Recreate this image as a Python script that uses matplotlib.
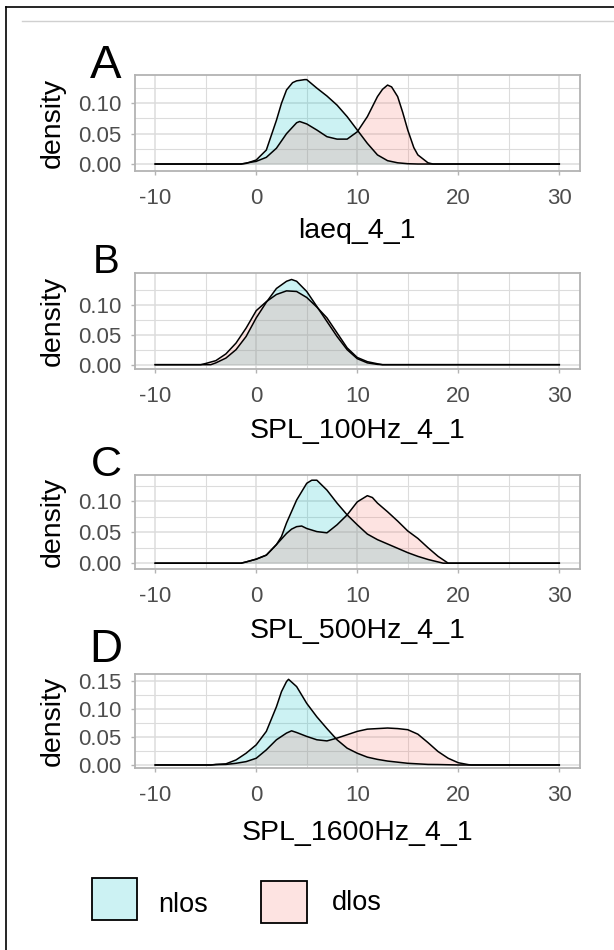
import matplotlib
matplotlib.use("Agg")
import matplotlib.pyplot as plt
from matplotlib.patches import Rectangle
from matplotlib.lines import Line2D

plt.rcParams['font.family'] = ['Liberation Sans', 'DejaVu Sans']

# ---------------- data ----------------
groups = ["nlos", "dlos"]
fill_colors = {"nlos": "#00BFC4", "dlos": "#F8766D"}
panel_letters = ["A", "B", "C", "D"]
x_labels = ["laeq_4_1", "SPL_100Hz_4_1", "SPL_500Hz_4_1", "SPL_1600Hz_4_1"]
x_ticks = [-10, 0, 10, 20, 30]

# Panel A
a_nlos_x = [-10, -1.5, -1, 0, 1, 2, 2.5, 3, 3.6, 4, 4.8, 5, 6, 7, 8, 9, 10, 11, 12, 13, 14, 15, 16, 30]
a_nlos_y = [0, 0, 0.001, 0.0066, 0.023, 0.072, 0.100, 0.122, 0.134, 0.137, 0.139, 0.139, 0.125, 0.112,
            0.097, 0.078, 0.056, 0.034, 0.015, 0.0055, 0.002, 0.0005, 0, 0]
a_dlos_x = [-10, -1.5, -1, 0, 1, 2, 3, 4, 4.3, 5, 6, 7, 8, 9, 10, 11, 12, 12.5, 13, 13.4, 14, 14.5,
            15, 15.6, 16, 17, 17.5, 30]
a_dlos_y = [0, 0, 0.0016, 0.0044, 0.011, 0.026, 0.050, 0.068, 0.070, 0.066, 0.056, 0.045, 0.041, 0.041,
            0.053, 0.078, 0.111, 0.123, 0.130, 0.127, 0.111, 0.085, 0.056, 0.027, 0.015, 0.002, 0, 0]

# Panel B
b_nlos_x = [-10, -4.5, -4, -3, -2, -1, 0, 1, 2, 3, 3.5, 4, 5, 6, 7, 8, 9, 10, 11, 12, 12.5, 30]
b_nlos_y = [0, 0, 0.003, 0.011, 0.025, 0.047, 0.078, 0.104, 0.127, 0.139, 0.142, 0.139, 0.122, 0.097,
            0.072, 0.047, 0.025, 0.010, 0.003, 0.0005, 0, 0]
b_dlos_x = [-10, -5.5, -5, -4, -3, -2, -1, 0, 1, 2, 3, 4, 5, 6, 7, 8, 9, 10, 11, 12, 12.5, 30]
b_dlos_y = [0, 0, 0.002, 0.0067, 0.018, 0.036, 0.061, 0.090, 0.105, 0.117, 0.123, 0.122, 0.112, 0.096,
            0.078, 0.053, 0.028, 0.012, 0.005, 0.0015, 0, 0]

# Panel C
c_nlos_x = [-10, -1.5, -1, 0, 1, 2, 2.5, 3, 4, 5, 5.5, 6, 7, 8, 9, 10, 11, 12, 13, 14, 15, 16, 17, 18,
            18.5, 30]
c_nlos_y = [0, 0, 0.002, 0.0065, 0.013, 0.030, 0.043, 0.065, 0.102, 0.129, 0.134, 0.134, 0.118, 0.097,
            0.078, 0.062, 0.047, 0.038, 0.031, 0.024, 0.017, 0.011, 0.006, 0.002, 0, 0]
c_dlos_x = [-10, -1.5, -1, 0, 1, 2, 3, 3.5, 4, 4.5, 5, 6, 7, 8, 9, 10, 11, 11.5, 12, 13, 14, 15, 16,
            17, 18, 19, 30]
c_dlos_y = [0, 0, 0.002, 0.0065, 0.013, 0.030, 0.048, 0.055, 0.059, 0.060, 0.056, 0.051, 0.049, 0.062,
            0.078, 0.099, 0.109, 0.106, 0.097, 0.083, 0.068, 0.052, 0.040, 0.025, 0.011, 0, 0]

# Panel D
d_nlos_x = [-10, -4.5, -4, -3, -2, -1, 0, 1, 2, 2.5, 3, 3.2, 4, 5, 6, 7, 8, 9, 10, 11, 12, 13, 14, 15,
            16, 17, 18, 19, 20, 30]
d_nlos_y = [0, 0, 0.001, 0.002, 0.009, 0.021, 0.036, 0.060, 0.104, 0.131, 0.149, 0.153, 0.140, 0.110,
            0.086, 0.065, 0.045, 0.030, 0.021, 0.014, 0.010, 0.007, 0.005, 0.003, 0.002, 0.001, 0.0008,
            0.0004, 0, 0]
d_dlos_x = [-10, -4.5, -4, -3, -2, -1, 0, 1, 2, 3, 3.5, 4, 5, 6, 7, 8, 9, 10, 11, 12, 13, 14, 15, 16,
            17, 18, 19, 20, 21, 21.3, 30]
d_dlos_y = [0, 0, 0.0006, 0.001, 0.003, 0.006, 0.012, 0.027, 0.045, 0.057, 0.061, 0.058, 0.051, 0.045,
            0.043, 0.048, 0.054, 0.060, 0.064, 0.065, 0.066, 0.065, 0.063, 0.055, 0.040, 0.024, 0.012,
            0.004, 0.0006, 0, 0]

panels = [
    {"nlos": (a_nlos_x, a_nlos_y), "dlos": (a_dlos_x, a_dlos_y), "yticks": [0, 0.05, 0.10]},
    {"nlos": (b_nlos_x, b_nlos_y), "dlos": (b_dlos_x, b_dlos_y), "yticks": [0, 0.05, 0.10]},
    {"nlos": (c_nlos_x, c_nlos_y), "dlos": (c_dlos_x, c_dlos_y), "yticks": [0, 0.05, 0.10]},
    {"nlos": (d_nlos_x, d_nlos_y), "dlos": (d_dlos_x, d_dlos_y), "yticks": [0, 0.05, 0.10, 0.15]},
]

# ---------------- layout (pixels) ----------------
W, H = 614, 950
fig = plt.figure(figsize=(W / 100, H / 100), dpi=100)

def fx(px):
    return px / W

def fy(py):
    return 1 - py / H

ax_left, ax_right = 135, 579.5
ax_rows = [(75, 171), (273, 369), (475, 569), (674, 768)]
ylims = [(-0.0115, 0.1466), (-0.0072, 0.1528), (-0.0094, 0.1424), (-0.0054, 0.1625)]
xlabel_baseline = [238, 438, 638, 840]
letter_info = [(106, 78, 34), (106, 273, 29), (106, 475.5, 31), (106, 661.5, 33)]

tick_col = "#4D4D4D"
grid_col = "#DCDCDC"
border_col = "#B3B3B3"

for i, (top, bot) in enumerate(ax_rows):
    ax = fig.add_axes([fx(ax_left), fy(bot), fx(ax_right - ax_left), (bot - top) / H])
    p = panels[i]
    for g in groups:
        xs, ys = p[g]
        ax.fill_between(xs, ys, 0, color=fill_colors[g], alpha=0.2, lw=0, zorder=2)
    for g in groups:
        xs, ys = p[g]
        ax.plot(xs, ys, color="black", lw=1.1, zorder=3, solid_joinstyle="round")
    ax.set_xlim(-12, 32)
    ax.set_ylim(*ylims[i])
    ax.set_xticks(x_ticks)
    ax.set_xticks([-5, 5, 15, 25], minor=True)
    yt = p["yticks"]
    ax.set_yticks(yt)
    ax.set_yticks([v + 0.025 for v in yt if v + 0.025 < ylims[i][1]], minor=True)
    ax.set_xticklabels([str(v) for v in x_ticks])
    ax.set_yticklabels(["%.2f" % v for v in yt])
    ax.grid(True, which="major", color=grid_col, lw=1.1, zorder=0)
    ax.grid(True, which="minor", color=grid_col, lw=0.8, zorder=0)
    ax.set_axisbelow(True)
    for s in ax.spines.values():
        s.set_color(border_col)
        s.set_linewidth(1.3)
    ax.tick_params(which="major", length=3, width=1.0, color=border_col,
                   labelcolor=tick_col, labelsize=16)
    ax.tick_params(axis="y", which="major", pad=6.5)
    ax.tick_params(axis="x", which="major", pad=9)
    ax.tick_params(which="minor", length=0)
    # y label
    fig.text(fx(53), fy((top + bot) / 2), "density", rotation=90, ha="center", va="center",
             fontsize=20.5, color="black")
    # x label
    fig.text(fx((ax_left + ax_right) / 2), fy(xlabel_baseline[i]), x_labels[i], ha="center",
             va="baseline", fontsize=20.5, color="black")
    # panel letter
    lx, ly, ls = letter_info[i]
    fig.text(fx(lx), fy(ly), panel_letters[i], ha="center", va="baseline", fontsize=ls,
             color="black")

# legend
legend_boxes = {"nlos": (91.5, 877.5, 136.5, 920), "dlos": (261, 881, 306.5, 923)}
legend_text = {"nlos": (158, 912.5), "dlos": (331.5, 910)}
for g in groups:
    x0, y0, x1, y1 = legend_boxes[g]
    fig.patches.append(Rectangle((fx(x0), fy(y1)), fx(x1 - x0), (y1 - y0) / H,
                                 transform=fig.transFigure, facecolor=fill_colors[g], alpha=0.2,
                                 edgecolor="none"))
    fig.patches.append(Rectangle((fx(x0), fy(y1)), fx(x1 - x0), (y1 - y0) / H,
                                 transform=fig.transFigure, facecolor="none",
                                 edgecolor="black", lw=1.3))
    tx, ty = legend_text[g]
    fig.text(fx(tx), fy(ty), g, ha="left", va="baseline", fontsize=19.5, color="black")

# frame and top rule
fig.add_artist(Line2D([fx(22), fx(614)], [fy(21), fy(21)], color="#D0D0D0", lw=1.0,
                      transform=fig.transFigure))
fig.add_artist(Line2D([fx(6), fx(6)], [fy(7), fy(950)], color="black", lw=1.2,
                      transform=fig.transFigure))
fig.add_artist(Line2D([fx(6), fx(614)], [fy(7), fy(7)], color="black", lw=1.2,
                      transform=fig.transFigure))

fig.savefig("out.png", dpi=100)
